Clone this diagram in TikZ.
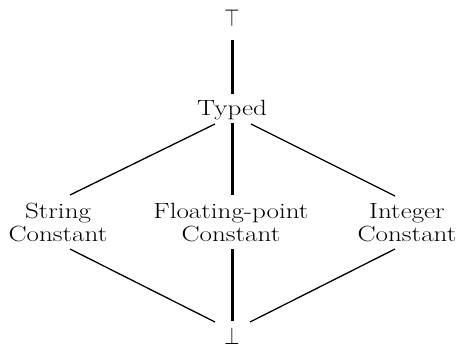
\documentclass[tikz,border=0pt]{standalone}
\usepackage{graphicx}
\newcommand{\widetxt}[1]{\scalebox{1.23}[1]{#1}}
\begin{document}
\begin{tikzpicture}[x=1pt,y=-1pt,
  lbl/.style={inner sep=0pt,font=\fontsize{22}{23}\selectfont,align=center},
  sym/.style={inner sep=0pt,anchor=south},
  thinedge/.style={line width=1.3pt},
  thickedge/.style={line width=3pt}]
\useasboundingbox (0,0) rectangle (458,346);
\node[sym] (top) at (232,27) {\scalebox{1.95}[2.45]{$\top$}};
\node[lbl,anchor=base] (typed) at (232,115) {\widetxt{Typed}};
\node[lbl] (str) at (58,222.5) {\widetxt{String}\\\widetxt{Constant}};
\node[lbl] (fp) at (231,222.5) {\widetxt{Floating-point}\\\widetxt{Constant}};
\node[lbl] (int) at (407,222.5) {\widetxt{Integer}\\\widetxt{Constant}};
\node[sym] (bot) at (232,345) {\scalebox{1.95}[2.45]{$\bot$}};
\draw[thickedge] ([shift={(0,13)}]top.south) -- ([shift={(0,-21)}]typed.base);
\draw[thickedge] ([shift={(0,8)}]typed.base) -- ([shift={(1,-27.5)}]fp.center);
\draw[thinedge] ([shift={(-17,9)}]typed.base) -- ([shift={(12,-27.5)}]str.center);
\draw[thinedge] ([shift={(19,9)}]typed.base) -- ([shift={(-12,-26.5)}]int.center);
\draw[thinedge] ([shift={(12,26.5)}]str.center) -- ([shift={(-17,-23)}]bot.south);
\draw[thickedge] ([shift={(1,26.5)}]fp.center) -- ([shift={(0,-24)}]bot.south);
\draw[thinedge] ([shift={(-12,26.5)}]int.center) -- ([shift={(18,-23)}]bot.south);
\end{tikzpicture}
\end{document}
